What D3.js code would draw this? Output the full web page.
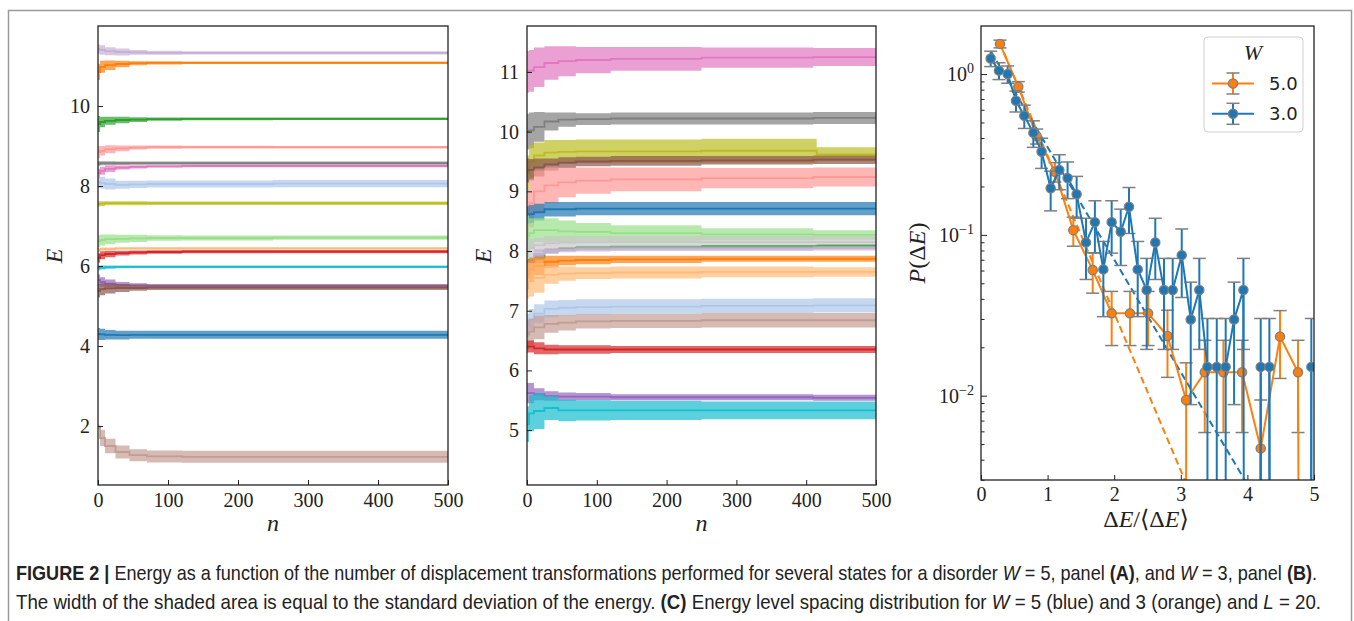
<!DOCTYPE html>
<html>
<head>
<meta charset="utf-8">
<script src="https://cdn.jsdelivr.net/npm/d3@7"></script>
<style>
  body { margin: 0; background: #fff; }
  svg { display: block; }
  .tick text { font-family: "Liberation Serif", "DejaVu Serif", serif; font-size: 20px; fill: #222; }
  .tick line { stroke: #222; stroke-width: 1; }
</style>
</head>
<body>
<svg id="fig" width="1354" height="621"></svg>
<script>
// ---- panel A (W = 5): running mean and std of the energy, per state ----
const nGridA = [0, 3, 10, 25, 45, 70, 120, 250, 500];
const colorsA = ['#c5b0d5', '#ff7f0e', '#2ca02c', '#ff9896', '#7f7f7f', '#e377c2', '#aec7e8', '#bcbd22',
                 '#98df8a', '#ffbb78', '#d62728', '#17becf', '#9467bd', '#8c564b', '#1f77b4', '#c49c94'];
const meanA = [
  [11.42, 11.40, 11.37, 11.35, 11.34, 11.33, 11.33, 11.33, 11.33],
  [10.85, 10.98, 11.02, 11.05, 11.07, 11.08, 11.08, 11.08, 11.08],
  [9.55, 9.60, 9.63, 9.65, 9.66, 9.67, 9.68, 9.68, 9.68],
  [8.85, 8.88, 8.92, 8.94, 8.96, 8.97, 8.97, 8.97, 8.97],
  [8.56, 8.57, 8.57, 8.57, 8.57, 8.57, 8.57, 8.57, 8.57],
  [8.32, 8.38, 8.43, 8.46, 8.48, 8.49, 8.50, 8.50, 8.50],
  [8.10, 8.08, 8.05, 8.03, 8.04, 8.05, 8.05, 8.06, 8.06],
  [7.55, 7.56, 7.57, 7.57, 7.57, 7.57, 7.57, 7.57, 7.57],
  [6.62, 6.65, 6.67, 6.68, 6.69, 6.70, 6.70, 6.71, 6.71],
  [6.40, 6.42, 6.43, 6.44, 6.44, 6.44, 6.44, 6.44, 6.44],
  [6.20, 6.27, 6.30, 6.32, 6.34, 6.35, 6.36, 6.36, 6.36],
  [5.95, 5.96, 5.97, 5.98, 5.98, 5.98, 5.98, 5.98, 5.98],
  [5.65, 5.60, 5.56, 5.53, 5.52, 5.51, 5.51, 5.51, 5.51],
  [5.38, 5.42, 5.44, 5.45, 5.45, 5.46, 5.46, 5.46, 5.46],
  [4.30, 4.29, 4.28, 4.27, 4.28, 4.28, 4.28, 4.28, 4.28],
  [1.98, 1.70, 1.50, 1.35, 1.27, 1.24, 1.23, 1.23, 1.23]
];
const sdA = [
  [0.12, 0.12, 0.10, 0.09, 0.06, 0.05, 0.04, 0.04, 0.04],
  [0.20, 0.15, 0.12, 0.08, 0.05, 0.04, 0.03, 0.03, 0.03],
  [0.20, 0.13, 0.10, 0.08, 0.06, 0.04, 0.035, 0.03, 0.03],
  [0.15, 0.12, 0.10, 0.07, 0.05, 0.04, 0.035, 0.03, 0.03],
  [0.06, 0.05, 0.05, 0.045, 0.04, 0.04, 0.04, 0.04, 0.04],
  [0.12, 0.10, 0.08, 0.05, 0.04, 0.03, 0.03, 0.03, 0.03],
  [0.15, 0.15, 0.14, 0.10, 0.09, 0.09, 0.09, 0.09, 0.09],
  [0.07, 0.06, 0.05, 0.05, 0.05, 0.045, 0.045, 0.045, 0.045],
  [0.15, 0.14, 0.12, 0.10, 0.09, 0.07, 0.06, 0.055, 0.05],
  [0.05, 0.04, 0.035, 0.03, 0.03, 0.03, 0.03, 0.03, 0.03],
  [0.12, 0.10, 0.08, 0.06, 0.05, 0.045, 0.04, 0.04, 0.04],
  [0.06, 0.05, 0.04, 0.035, 0.03, 0.03, 0.03, 0.03, 0.03],
  [0.14, 0.12, 0.10, 0.07, 0.05, 0.04, 0.04, 0.04, 0.04],
  [0.17, 0.15, 0.13, 0.10, 0.07, 0.06, 0.06, 0.06, 0.06],
  [0.15, 0.14, 0.12, 0.11, 0.10, 0.10, 0.10, 0.10, 0.10],
  [0.05, 0.20, 0.18, 0.16, 0.15, 0.15, 0.15, 0.15, 0.15]
];

// ---- panel B (W = 3) ----
const nGridB = [0, 3, 10, 25, 45, 70, 120, 250, 410, 415, 500];
const colorsB = ['#e377c2', '#7f7f7f', '#bcbd22', '#8c564b', '#ff9896', '#1f77b4', '#98df8a', '#c7c7c7', '#2ca02c',
                 '#c5b0d5', '#ff7f0e', '#ffbb78', '#aec7e8', '#c49c94', '#d62728', '#9467bd', '#17becf'];
const meanB = [
  [11.00, 11.02, 11.08, 11.15, 11.18, 11.20, 11.22, 11.24, 11.25, 11.25, 11.25],
  [10.00, 10.02, 10.08, 10.17, 10.20, 10.21, 10.22, 10.22, 10.23, 10.23, 10.23],
  [9.30, 9.50, 9.60, 9.65, 9.66, 9.67, 9.67, 9.68, 9.68, 9.62, 9.62],
  [9.35, 9.36, 9.40, 9.45, 9.48, 9.50, 9.51, 9.52, 9.53, 9.53, 9.53],
  [8.60, 8.80, 9.00, 9.10, 9.15, 9.18, 9.20, 9.22, 9.24, 9.24, 9.24],
  [8.60, 8.62, 8.65, 8.70, 8.70, 8.71, 8.71, 8.71, 8.71, 8.71, 8.71],
  [8.25, 8.30, 8.35, 8.35, 8.33, 8.32, 8.30, 8.28, 8.27, 8.27, 8.27],
  [8.00, 8.05, 8.10, 8.13, 8.14, 8.15, 8.15, 8.15, 8.15, 8.15, 8.15],
  [7.80, 7.85, 7.90, 8.00, 8.03, 8.05, 8.06, 8.07, 8.07, 8.08, 8.09],
  [7.70, 7.80, 7.95, 8.00, 8.02, 8.03, 8.04, 8.04, 8.05, 8.05, 8.05],
  [7.60, 7.68, 7.75, 7.82, 7.84, 7.85, 7.86, 7.87, 7.87, 7.87, 7.87],
  [7.50, 7.52, 7.55, 7.60, 7.62, 7.63, 7.64, 7.65, 7.65, 7.65, 7.65],
  [6.75, 6.85, 6.95, 7.03, 7.05, 7.06, 7.07, 7.08, 7.09, 7.09, 7.09],
  [6.60, 6.65, 6.72, 6.78, 6.80, 6.82, 6.83, 6.84, 6.84, 6.84, 6.84],
  [6.40, 6.40, 6.37, 6.35, 6.35, 6.35, 6.35, 6.35, 6.35, 6.35, 6.35],
  [5.62, 5.62, 5.60, 5.57, 5.56, 5.56, 5.55, 5.55, 5.54, 5.54, 5.54],
  [5.10, 5.28, 5.32, 5.37, 5.33, 5.33, 5.33, 5.33, 5.33, 5.33, 5.33]
];
const sdB = [
  [0.35, 0.35, 0.33, 0.28, 0.25, 0.22, 0.20, 0.17, 0.15, 0.15, 0.15],
  [0.30, 0.30, 0.25, 0.15, 0.12, 0.10, 0.10, 0.10, 0.10, 0.10, 0.10],
  [0.30, 0.28, 0.22, 0.21, 0.20, 0.20, 0.20, 0.20, 0.20, 0.12, 0.12],
  [0.20, 0.18, 0.15, 0.10, 0.09, 0.08, 0.08, 0.07, 0.07, 0.07, 0.07],
  [0.40, 0.40, 0.35, 0.30, 0.25, 0.22, 0.20, 0.17, 0.16, 0.16, 0.16],
  [0.15, 0.15, 0.14, 0.12, 0.12, 0.11, 0.11, 0.11, 0.11, 0.11, 0.11],
  [0.35, 0.25, 0.20, 0.20, 0.18, 0.15, 0.13, 0.10, 0.08, 0.08, 0.08],
  [0.20, 0.15, 0.12, 0.12, 0.11, 0.10, 0.10, 0.10, 0.10, 0.10, 0.10],
  [0.05, 0.04, 0.04, 0.03, 0.03, 0.03, 0.03, 0.03, 0.03, 0.03, 0.03],
  [0.15, 0.10, 0.08, 0.05, 0.04, 0.04, 0.04, 0.04, 0.04, 0.04, 0.04],
  [0.25, 0.20, 0.15, 0.10, 0.08, 0.07, 0.06, 0.05, 0.05, 0.05, 0.05],
  [0.30, 0.28, 0.25, 0.15, 0.12, 0.10, 0.10, 0.09, 0.08, 0.08, 0.08],
  [0.20, 0.18, 0.16, 0.14, 0.13, 0.13, 0.12, 0.12, 0.12, 0.12, 0.12],
  [0.25, 0.22, 0.20, 0.15, 0.13, 0.12, 0.12, 0.12, 0.12, 0.12, 0.12],
  [0.10, 0.10, 0.10, 0.08, 0.07, 0.07, 0.06, 0.06, 0.06, 0.06, 0.06],
  [0.17, 0.17, 0.10, 0.08, 0.07, 0.06, 0.05, 0.05, 0.05, 0.05, 0.05],
  [0.30, 0.30, 0.30, 0.20, 0.18, 0.17, 0.16, 0.15, 0.15, 0.15, 0.15]
];

// ---- panel C: level spacing distribution ----
const w5X = [0.285, 0.56, 0.836, 1.11, 1.386, 1.677, 1.962, 2.237, 2.51, 2.80, 3.08, 3.36, 3.64, 3.92, 4.20, 4.49, 4.76, 5.04];
const w5P = [1.54, 0.834, 0.411, 0.247, 0.107, 0.0604, 0.0325, 0.0325, 0.0325, 0.0235, 0.0094, 0.014, 0.014, 0.014, 0.0047, 0.0233, 0.014, 0];
const w5Err = [0.085, 0.063, 0.044, 0.034, 0.022, 0.017, 0.012, 0.012, 0.012, 0.0105, 0.0066, 0.0081, 0.0081, 0.0081, 0.0047, 0.0105, 0.0081, 0];
const w3X = [0.145, 0.27, 0.40, 0.525, 0.65, 0.786, 0.91, 1.046, 1.176, 1.30, 1.436, 1.577, 1.71, 1.837, 1.962, 2.098,
             2.222, 2.353, 2.488, 2.617, 2.748, 2.878, 3.014, 3.149, 3.278, 3.40, 3.54, 3.674, 3.80, 3.94, 4.07, 4.20,
             4.33, 4.46, 4.59, 4.72, 4.85, 4.96];
const w3P = [1.25, 1.05, 1.0, 0.682, 0.55, 0.431, 0.329, 0.195, 0.253, 0.226, 0.179, 0.0898, 0.12, 0.061, 0.12, 0.1045,
             0.1495, 0.061, 0.0454, 0.0898, 0.0454, 0.0454, 0.0748, 0.0298, 0.0454, 0.0151, 0.0151, 0.0151, 0.0298, 0.0454, 0, 0.0151,
             0.0151, 0, 0, 0, 0, 0.0151];
const w3Err = [0.137, 0.126, 0.123, 0.101, 0.091, 0.081, 0.070, 0.054, 0.062, 0.058, 0.052, 0.037, 0.043, 0.030, 0.043, 0.040,
               0.0475, 0.030, 0.026, 0.037, 0.026, 0.026, 0.034, 0.021, 0.026, 0.0151, 0.0151, 0.0151, 0.021, 0.026, 0, 0.0151,
               0.0151, 0, 0, 0, 0, 0.0151];
// dashed exponential fits: end points (straight on a log axis)
const fit5X = [0.28, 3.2];
const fit5P = [1.57, 0.00218];
const fit3X = [0.15, 4.0];
const fit3P = [1.38, 0.0028];
const legendLabels = ['5.0', '3.0'];

const nTicks = [0, 100, 200, 300, 400, 500];
const eTicksA = [2, 4, 6, 8, 10];
const eTicksB = [5, 6, 7, 8, 9, 10, 11];
const sTicks = [0, 1, 2, 3, 4, 5];

const SERIF = '"Liberation Serif", "DejaVu Serif", serif';
const svg = d3.select('#fig');

// outer figure frame
svg.append('rect').attr('x', 8.5).attr('y', 10.5).attr('width', 1343).attr('height', 700)
  .attr('fill', 'none').attr('stroke', '#9a9a9a').attr('stroke-width', 1.5);

function clip(id, x0, y0, x1, y1) {
  svg.append('clipPath').attr('id', id).append('rect')
    .attr('x', x0).attr('y', y0).attr('width', x1 - x0).attr('height', y1 - y0);
}

function bandPanel(id, xr, yDom, grid, colors, means, sds, yTicks, yLabelX) {
  const top = 26, bottom = 485;
  const x = d3.scaleLinear().domain([0, 500]).range(xr);
  const y = d3.scaleLinear().domain(yDom).range([bottom, top]);
  clip(id, xr[0], top, xr[1], bottom);
  const g = svg.append('g').attr('clip-path', `url(#${id})`);

  colors.forEach((c, i) => {
    const pts = grid.map((n, j) => ({ n: n, m: means[i][j], s: sds[i][j] }));
    const area = d3.area().curve(d3.curveStepAfter)
      .x(d => x(d.n)).y0(d => y(d.m - d.s)).y1(d => y(d.m + d.s));
    const line = d3.line().curve(d3.curveStepAfter).x(d => x(d.n)).y(d => y(d.m));
    g.append('path').attr('d', area(pts)).attr('fill', c).attr('fill-opacity', 0.7);
    g.append('path').attr('d', line(pts)).attr('fill', 'none').attr('stroke', c).attr('stroke-width', 1.8);
  });

  svg.append('g').attr('transform', `translate(0,${bottom})`)
    .call(d3.axisBottom(x).tickValues(nTicks).tickSize(-5).tickPadding(8))
    .call(a => a.select('.domain').remove());
  svg.append('g').attr('transform', `translate(${xr[0]},0)`)
    .call(d3.axisLeft(y).tickValues(yTicks).tickSize(-5).tickPadding(8))
    .call(a => a.select('.domain').remove());

  svg.append('rect').attr('x', xr[0]).attr('y', top).attr('width', xr[1] - xr[0]).attr('height', bottom - top)
    .attr('fill', 'none').attr('stroke', '#222').attr('stroke-width', 1.3);

  svg.append('text').attr('x', (xr[0] + xr[1]) / 2).attr('y', 531).attr('text-anchor', 'middle')
    .attr('font-family', SERIF).attr('font-size', 24).attr('font-style', 'italic').attr('fill', '#222').text('n');
  svg.append('text').attr('transform', `translate(${yLabelX},256) rotate(-90)`).attr('text-anchor', 'middle')
    .attr('font-family', SERIF).attr('font-size', 24).attr('font-style', 'italic').attr('fill', '#222').text('E');
}

bandPanel('clipA', [98, 448], [0.525, 12.0], nGridA, colorsA, meanA, sdA, eTicksA, 62);
bandPanel('clipB', [527, 876], [4.08, 11.77], nGridB, colorsB, meanB, sdB, eTicksB, 491);

// ---- panel C ----
const cTop = 26, cBottom = 480, cLeft = 981, cRight = 1314;
const xC = d3.scaleLinear().domain([0, 5]).range([cLeft, cRight]);
const yC = d3.scaleLog().domain([0.00299, 1.99]).range([cBottom, cTop]);
const fy = v => yC(Math.max(v, 1e-30));
clip('clipC', cLeft, cTop, cRight, cBottom);
const gC = svg.append('g').attr('clip-path', 'url(#clipC)');

const ORANGE = '#ff7f0e', BLUE = '#1f77b4', EDGE = '#7f7f7f';

function fitLine(xs, ps, color) {
  const pts = xs.map((v, i) => [v, ps[i]]);
  gC.append('path').attr('d', d3.line().x(d => xC(d[0])).y(d => fy(d[1]))(pts))
    .attr('fill', 'none').attr('stroke', color).attr('stroke-width', 2).attr('stroke-dasharray', '7,4');
}
fitLine(fit5X, fit5P, ORANGE);
fitLine(fit3X, fit3P, BLUE);

function errSeries(xs, ps, es, color) {
  const pts = xs.map((v, i) => ({ x: v, p: ps[i], e: es[i] }));
  const withVal = pts.filter(d => d.p > 0);
  // error bars
  withVal.forEach(d => {
    const px = xC(d.x);
    const lo = d.p - d.e, hi = d.p + d.e;
    gC.append('line').attr('x1', px).attr('x2', px).attr('y1', fy(hi)).attr('y2', lo > 0 ? fy(lo) : cBottom + 20)
      .attr('stroke', color).attr('stroke-width', 2);
    [hi, lo].forEach(v => {
      if (v <= 0) return;
      gC.append('line').attr('x1', px - 6.5).attr('x2', px + 6.5).attr('y1', fy(v)).attr('y2', fy(v))
        .attr('stroke', EDGE).attr('stroke-width', 1.5);
    });
  });
  gC.append('path').attr('d', d3.line().x(d => xC(d.x)).y(d => fy(d.p))(pts))
    .attr('fill', 'none').attr('stroke', color).attr('stroke-width', 2).attr('stroke-linejoin', 'round');
  gC.selectAll(null).data(withVal).enter().append('circle')
    .attr('cx', d => xC(d.x)).attr('cy', d => fy(d.p)).attr('r', 4.6)
    .attr('fill', color).attr('stroke', EDGE).attr('stroke-width', 1.3);
}
errSeries(w5X, w5P, w5Err, ORANGE);
errSeries(w3X, w3P, w3Err, BLUE);

// axes C
svg.append('g').attr('transform', `translate(0,${cBottom})`)
  .call(d3.axisBottom(xC).tickValues(sTicks).tickSize(-5).tickPadding(7).tickFormat(d3.format('d')))
  .call(a => a.select('.domain').remove());
const minors = [];
[0.001, 0.01, 0.1, 1].forEach(dec => { for (let k = 2; k <= 9; k++) { const v = k * dec; if (v > 0.00299 && v < 1.99) minors.push(v); } });
svg.append('g').attr('transform', `translate(${cLeft},0)`)
  .call(d3.axisLeft(yC).tickValues(minors).tickSize(-3.5).tickFormat(''))
  .call(a => a.select('.domain').remove());
const yMajor = svg.append('g').attr('transform', `translate(${cLeft},0)`)
  .call(d3.axisLeft(yC).tickValues([0.01, 0.1, 1]).tickSize(-6).tickPadding(7).tickFormat(''))
  .call(a => a.select('.domain').remove());
yMajor.selectAll('.tick text').each(function (d) {
  const t = d3.select(this);
  const ex = Math.round(Math.log10(d));
  t.append('tspan').text('10');
  t.append('tspan').attr('dy', -8).attr('font-size', 14).text(ex < 0 ? '\u2212' + (-ex) : String(ex));
});

svg.append('rect').attr('x', cLeft).attr('y', cTop).attr('width', cRight - cLeft).attr('height', cBottom - cTop)
  .attr('fill', 'none').attr('stroke', '#222').attr('stroke-width', 1.3);

// axis labels C
const xl = svg.append('text').attr('x', 1146).attr('y', 527).attr('text-anchor', 'middle')
  .attr('font-family', SERIF).attr('font-size', 24).attr('fill', '#222');
[['\u0394', 'normal'], ['E', 'italic'], ['/\u27E8\u0394', 'normal'], ['E', 'italic'], ['\u27E9', 'normal']]
  .forEach(p => xl.append('tspan').attr('font-style', p[1]).text(p[0]));
const yl = svg.append('text').attr('transform', 'translate(925,253) rotate(-90)').attr('text-anchor', 'middle')
  .attr('font-family', SERIF).attr('font-size', 24).attr('fill', '#222');
[['P', 'italic'], ['(\u0394', 'normal'], ['E', 'italic'], [')', 'normal']]
  .forEach(p => yl.append('tspan').attr('font-style', p[1]).text(p[0]));

// legend
const lg = svg.append('g');
lg.append('rect').attr('x', 1204).attr('y', 37).attr('width', 99).attr('height', 95).attr('rx', 4)
  .attr('fill', '#fff').attr('fill-opacity', 0.85).attr('stroke', '#d0d0d0').attr('stroke-width', 1);
lg.append('text').attr('x', 1253).attr('y', 60).attr('text-anchor', 'middle').attr('font-family', SERIF)
  .attr('font-size', 22).attr('font-style', 'italic').attr('fill', '#222').text('W');
[ORANGE, BLUE].forEach((c, i) => {
  const yy = 83.5 + i * 30.3, cx = 1233;
  lg.append('line').attr('x1', 1212).attr('x2', 1254).attr('y1', yy).attr('y2', yy).attr('stroke', c).attr('stroke-width', 2);
  lg.append('line').attr('x1', cx).attr('x2', cx).attr('y1', yy - 10.5).attr('y2', yy + 10.5).attr('stroke', c).attr('stroke-width', 2);
  [yy - 10.5, yy + 10.5].forEach(v => lg.append('line').attr('x1', cx - 6.5).attr('x2', cx + 6.5).attr('y1', v).attr('y2', v)
    .attr('stroke', EDGE).attr('stroke-width', 1.5));
  lg.append('circle').attr('cx', cx).attr('cy', yy).attr('r', 4.6).attr('fill', c).attr('stroke', EDGE).attr('stroke-width', 1.3);
  lg.append('text').attr('x', 1269).attr('y', yy + 6.5).attr('font-family', '"DejaVu Sans", sans-serif')
    .attr('font-size', 18).attr('fill', '#222').text(legendLabels[i]);
});

// caption (narrow typeface in the source, so the lines are squeezed to width)
const captionLines = [
  [['FIGURE 2', 'b'], [' | ', 'b'], ['Energy as a function of the number of displacement transformations performed for several states for a disorder ', ''],
   ['W', 'i'], [' = 5, panel ', ''], ['(A)', 'b'], [', and ', ''], ['W', 'i'], [' = 3, panel ', ''], ['(B)', 'b'], ['.', '']],
  [['The width of the shaded area is equal to the standard deviation of the energy. ', ''], ['(C)', 'b'],
   [' Energy level spacing distribution for ', ''], ['W', 'i'], [' = 5 (blue) and 3 (orange) and ', ''], ['L', 'i'], [' = 20.', '']]
];
const captionY = [580, 609];
const captionW = [1302, 1306];
captionLines.forEach((parts, i) => {
  const t = svg.append('text').attr('font-family', '"Liberation Sans", Arial, sans-serif').attr('font-size', 20)
    .attr('fill', '#222').style('white-space', 'pre');
  parts.forEach(p => {
    const s = t.append('tspan').text(p[0]);
    if (p[1] === 'b') s.attr('font-weight', 'bold');
    if (p[1] === 'i') s.attr('font-style', 'italic');
  });
  const w = t.node().getComputedTextLength();
  t.attr('transform', `translate(16,${captionY[i]}) scale(${captionW[i] / w},1)`);
});
</script>
</body>
</html>
